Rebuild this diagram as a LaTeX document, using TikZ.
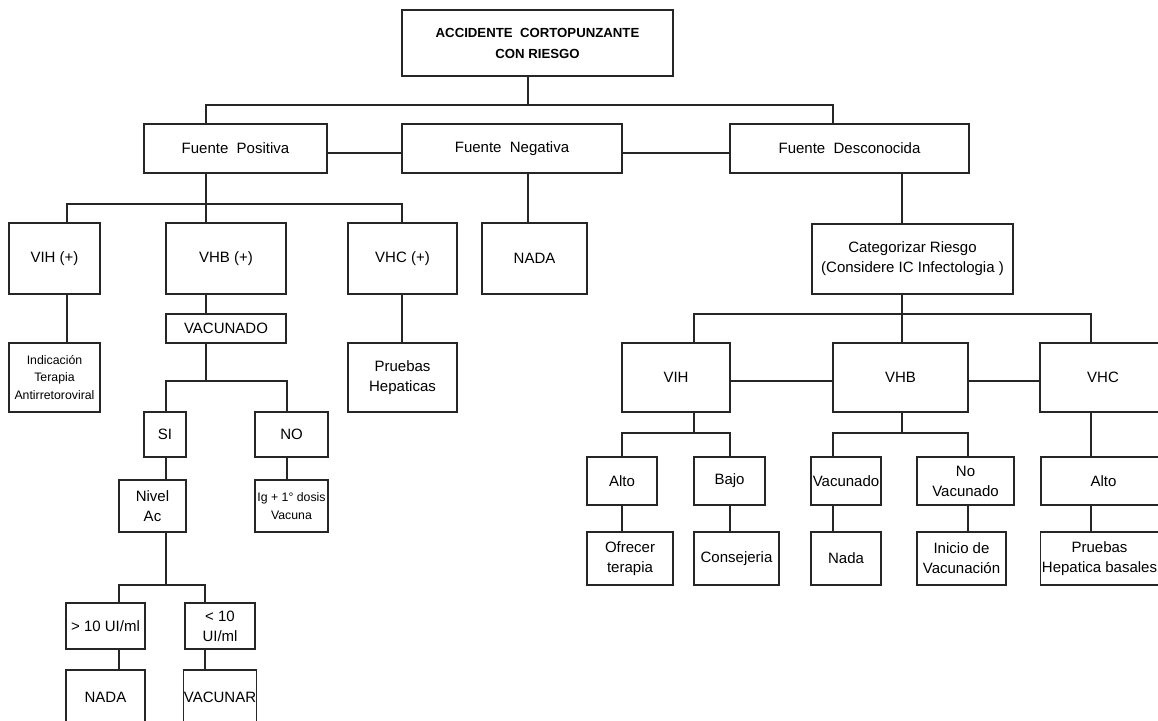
\documentclass[tikz,border=0pt]{standalone}
\usepackage{fontspec}
\setmainfont{Liberation Sans}
\begin{document}
\begin{tikzpicture}[x=1pt,y=-1pt,
    caja/.style={draw=black!85, line width=1.2pt, align=center, inner sep=0pt, font=\fontsize{15}{20}\selectfont},
    chica/.style={font=\fontsize{12.3}{17.5}\selectfont},
    linea/.style={draw=black!85, line width=1.2pt}]
    \useasboundingbox (0,0) rectangle (1158,720);
    \clip (0,0) rectangle (1158,720);
    \fill[white] (0,0) rectangle (1158,720);
    % niveles superiores
    \node[caja, minimum width=271, minimum height=66, font=\bfseries\fontsize{13.2}{21}\selectfont] (top) at (537.5,43) {ACCIDENTE\ \ CORTOPUNZANTE\\CON RIESGO};
    \node[caja, minimum width=183, minimum height=49] (fpos) at (235.5,148.5) {Fuente\ \ Positiva};
    \node[caja, minimum width=220, minimum height=49] (fneg) at (512,148.5) {Fuente\ \ Negativa};
    \node[caja, minimum width=239, minimum height=49] (fdes) at (849.5,148.5) {Fuente\ \ Desconocida};
    % fuente positiva
    \node[caja, minimum width=91, minimum height=71] (vihp) at (54.5,258.5) {VIH (+)};
    \node[caja, minimum width=120, minimum height=71] (vhbp) at (226,258.5) {VHB (+)};
    \node[caja, minimum width=109, minimum height=71] (vhcp) at (402.5,258.5) {VHC (+)};
    \node[caja, minimum width=105, minimum height=71] (nada1) at (534.5,258.5) {NADA};
    \node[caja, chica, minimum width=91, minimum height=69] (indic) at (54.5,377.5) {Indicación\\Terapia\\Antirretoroviral};
    \node[caja, minimum width=120, minimum height=29] (vacun) at (226,328.5) {VACUNADO};
    \node[caja, minimum width=109, minimum height=69] (prueb) at (402.5,377.5) {Pruebas\\Hepaticas};
    \node[caja, minimum width=42, minimum height=45] (si) at (165,434.5) {SI};
    \node[caja, minimum width=73, minimum height=45] (no) at (291.5,434.5) {NO};
    \node[caja, minimum width=67, minimum height=52] (nivel) at (152.5,506) {Nivel\\Ac};
    \node[caja, chica, minimum width=73, minimum height=52] (ig) at (291.5,506) {Ig + 1° dosis\\Vacuna};
    \node[caja, minimum width=79, minimum height=46] (may) at (105.5,626) {> 10 UI/ml};
    \node[caja, minimum width=70, minimum height=46] (men) at (220,626) {< 10\\UI/ml};
    \node[caja, minimum width=79, minimum height=54] (nada2) at (105.5,697) {NADA};
    \node[caja, minimum width=71, minimum height=54] (vacunar) at (220,697) {VACUNAR};
    % fuente desconocida
    \node[caja, minimum width=201, minimum height=70] (cat) at (912.5,259) {Categorizar Riesgo\\(Considere IC Infectologia )};
    \node[caja, minimum width=108, minimum height=69] (vih) at (676,377.5) {VIH};
    \node[caja, minimum width=135, minimum height=69] (vhb) at (900.5,377.5) {VHB};
    \node[caja, minimum width=126, minimum height=69] (vhc) at (1103,377.5) {VHC};
    \node[caja, minimum width=70, minimum height=48] (alto1) at (622,481) {Alto};
    \node[caja, minimum width=71, minimum height=48] (bajo) at (729.5,481) {Bajo};
    \node[caja, minimum width=70, minimum height=48] (vacu) at (846,481) {Vacunado};
    \node[caja, minimum width=97, minimum height=48] (novac) at (965.5,481) {No\\Vacunado};
    \node[caja, minimum width=125, minimum height=48] (alto2) at (1103.5,481) {Alto};
    \node[caja, minimum width=86, minimum height=53] (ofre) at (630,558.5) {Ofrecer\\terapia};
    \node[caja, minimum width=85, minimum height=53] (cons) at (736.5,558.5) {Consejeria};
    \node[caja, minimum width=70, minimum height=53] (nada3) at (846,558.5) {Nada};
    \node[caja, minimum width=89, minimum height=53] (inic) at (961.5,558.5) {Inicio de\\Vacunación};
    \node[caja, minimum width=118, minimum height=53] (pruh) at (1099.5,558.5) {Pruebas\\Hepatica basales};
    % puntos de los buses
    \coordinate (h1) at (0,153);
    \coordinate (h2) at (0,381);
    \coordinate (t0) at (528,105);
    \coordinate (t1) at (206,105);
    \coordinate (t2) at (833,105);
    \coordinate (p0) at (206,204);
    \coordinate (p1) at (67,204);
    \coordinate (p2) at (402,204);
    \coordinate (v0) at (206,381);
    \coordinate (v1) at (166,381);
    \coordinate (v2) at (287,381);
    \coordinate (n0) at (166,585);
    \coordinate (n1) at (119,585);
    \coordinate (n2) at (205,585);
    \coordinate (d0) at (902,314);
    \coordinate (d1) at (694,314);
    \coordinate (d2) at (1091,314);
    \coordinate (i0) at (694,433);
    \coordinate (i1) at (622,433);
    \coordinate (i2) at (730,433);
    \coordinate (b0) at (902,433);
    \coordinate (b1) at (833,433);
    \coordinate (b2) at (968,433);
    % conectores
    \draw[linea] (top.south -| t0) -- (t0);
    \draw[linea] (fpos.north -| t1) -- (t1) -- (t2) -- (fdes.north -| t2);
    \draw[linea] (fpos.east |- h1) -- (fneg.west |- h1) (fneg.east |- h1) -- (fdes.west |- h1);
    \draw[linea] (fneg.south -| t0) -- (nada1.north -| t0);
    \draw[linea] (fpos.south -| p0) -- (vhbp.north -| p0);
    \draw[linea] (vihp.north -| p1) -- (p1) -- (p2) -- (vhcp.north -| p2);
    \draw[linea] (vihp.south -| p1) -- (indic.north -| p1);
    \draw[linea] (vhcp.south -| p2) -- (prueb.north -| p2);
    \draw[linea] (vhbp.south -| p0) -- (vacun.north -| p0);
    \draw[linea] (vacun.south -| v0) -- (v0);
    \draw[linea] (si.north -| v1) -- (v1) -- (v2) -- (no.north -| v2);
    \draw[linea] (si.south -| v1) -- (nivel.north -| v1);
    \draw[linea] (no.south -| v2) -- (ig.north -| v2);
    \draw[linea] (nivel.south -| n0) -- (n0);
    \draw[linea] (may.north -| n1) -- (n1) -- (n2) -- (men.north -| n2);
    \draw[linea] (may.south -| n1) -- (nada2.north -| n1);
    \draw[linea] (men.south -| n2) -- (vacunar.north -| n2);
    \draw[linea] (fdes.south -| d0) -- (cat.north -| d0);
    \draw[linea] (cat.south -| d0) -- (vhb.north -| d0);
    \draw[linea] (vih.north -| d1) -- (d1) -- (d2) -- (vhc.north -| d2);
    \draw[linea] (vih.east |- h2) -- (vhb.west |- h2) (vhb.east |- h2) -- (vhc.west |- h2);
    \draw[linea] (vih.south -| i0) -- (i0);
    \draw[linea] (alto1.north -| i1) -- (i1) -- (i2) -- (bajo.north -| i2);
    \draw[linea] (alto1.south -| i1) -- (ofre.north -| i1);
    \draw[linea] (bajo.south -| i2) -- (cons.north -| i2);
    \draw[linea] (vhb.south -| b0) -- (b0);
    \draw[linea] (vacu.north -| b1) -- (b1) -- (b2) -- (novac.north -| b2);
    \draw[linea] (vacu.south -| b1) -- (nada3.north -| b1);
    \draw[linea] (novac.south -| b2) -- (inic.north -| b2);
    \draw[linea] (vhc.south -| d2) -- (alto2.north -| d2);
    \draw[linea] (alto2.south -| d2) -- (pruh.north -| d2);
\end{tikzpicture}
\end{document}
